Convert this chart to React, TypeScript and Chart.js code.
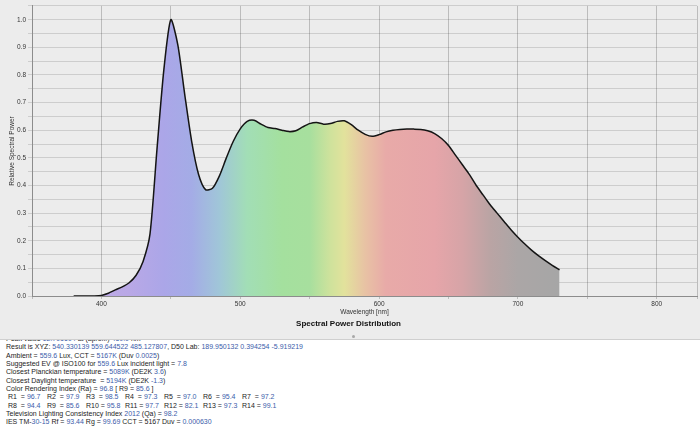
import React, { useEffect, useRef } from "react";
import { Chart, registerables } from "chart.js";

Chart.register(...registerables);

// ---- data ----
const wavelengths = [
  380, 385, 390, 395, 400, 405, 410, 415, 420, 425, 430, 435, 440, 445, 450, 455, 460, 465, 470, 475,
  480, 485, 490, 495, 500, 505, 510, 515, 520, 525, 530, 535, 540, 545, 550, 555, 560, 565, 570, 575,
  580, 585, 590, 595, 600, 605, 610, 615, 620, 625, 630, 635, 640, 645, 650, 655, 660, 665, 670, 675,
  680, 685, 690, 695, 700, 705, 710, 715, 720, 725, 730,
];
const relativePower = [
  0, 0, 0, 0, 0.002, 0.01, 0.022, 0.033, 0.048, 0.075, 0.125, 0.225, 0.53, 0.82, 1.0, 0.91, 0.73, 0.56, 0.44, 0.385,
  0.39, 0.435, 0.5, 0.56, 0.605, 0.632, 0.636, 0.622, 0.61, 0.606, 0.6, 0.595, 0.598, 0.612, 0.624, 0.628, 0.622, 0.624, 0.632, 0.634,
  0.62, 0.6, 0.585, 0.578, 0.584, 0.594, 0.6, 0.603, 0.604, 0.604, 0.603, 0.598, 0.588, 0.57, 0.545, 0.51, 0.475, 0.44, 0.4, 0.365,
  0.33, 0.3, 0.27, 0.24, 0.213, 0.188, 0.165, 0.145, 0.127, 0.11, 0.095,
];
const xTickLabels = [400, 500, 600, 700, 800];
const yTickLabels = [0, 0.1, 0.2, 0.3, 0.4, 0.5, 0.6, 0.7, 0.8, 0.9, 1.0];

// spectrum fill colour stops (wavelength, colour)
const spectrumStops: [number, string][] = [
  [380, "#c0ace6"],
  [420, "#b9a8e6"],
  [445, "#aba6e8"],
  [465, "#a4ace6"],
  [485, "#a0c6d8"],
  [505, "#a2deb6"],
  [530, "#a4e09e"],
  [550, "#a7df9e"],
  [565, "#cfe29c"],
  [575, "#e2e29c"],
  [590, "#e8c2a4"],
  [605, "#e8aaa8"],
  [640, "#e6a5a9"],
  [660, "#d6a4a7"],
  [680, "#baa4a4"],
  [700, "#aba6a6"],
  [730, "#a6a6a6"],
];

// info panel text: [text, isValue]
type Seg = [string, boolean];
const infoLines: Seg[][] = [
  [["Peak value ", false], ["12.791694", true], [" at (aprox.) ", false], ["450.0", true], [" nm", false]],
  [["Result is XYZ: ", false], ["540.330139 559.644522 485.127807", true], [", D50 Lab: ", false], ["189.950132 0.394254 -5.919219", true]],
  [["Ambient = ", false], ["559.6", true], [" Lux, CCT = ", false], ["5167K", true], [" (Duv ", false], ["0.0025", true], [")", false]],
  [["Suggested EV @ ISO100 for ", false], ["559.6", true], [" Lux incident light = ", false], ["7.8", true]],
  [["Closest Planckian temperature = ", false], ["5089K", true], [" (DE2K ", false], ["3.6", true], [")", false]],
  [["Closest Daylight temperature  = ", false], ["5194K", true], [" (DE2K ", false], ["-1.3", true], [")", false]],
  [["Color Rendering Index (Ra) = ", false], ["96.8", true], [" [ R9 = ", false], ["85.6", true], [" ]", false]],
];
const rNames1 = ["R1", "R2", "R3", "R4", "R5", "R6", "R7"];
const rValues1 = ["96.7", "97.9", "98.5", "97.3", "97.0", "95.4", "97.2"];
const rNames2 = ["R8", "R9", "R10", "R11", "R12", "R13", "R14"];
const rValues2 = ["94.4", "85.6", "95.8", "97.7", "82.1", "97.3", "99.1"];
const infoTail: Seg[][] = [
  [["Television Lighting Consistency Index ", false], ["2012", true], [" (Qa) = ", false], ["98.2", true]],
  [["IES TM-", false], ["30-15", true], [" Rf = ", false], ["93.44", true], [" Rg = ", false], ["99.69", true], [" CCT = 5167 Duv = ", false], ["0.000630", true]],
];

const FONT = '"Liberation Sans", Arial, Helvetica, sans-serif';
const BLUE = "#3b5caa";

function Line({ segs }: { segs: Seg[] }) {
  return (
    <div>
      {segs.map((s, i) => (
        <span key={i} style={{ color: s[1] ? BLUE : undefined }}>{s[0]}</span>
      ))}
    </div>
  );
}

function RLine({ names, values }: { names: string[]; values: string[] }) {
  return (
    <div style={{ paddingLeft: 2 }}>
      {names.map((n, i) => (
        <span key={i} style={{ display: "inline-block", width: 39 }}>
          {n.length < 3 ? n + "  = " : n + " = "}
          <span style={{ color: BLUE }}>{values[i]}</span>
        </span>
      ))}
    </div>
  );
}

export default function App() {
  const ref = useRef<HTMLCanvasElement>(null);

  useEffect(() => {
    const canvas = ref.current!;
    Chart.defaults.font.family = FONT;
    const points = wavelengths.map((w, i) => ({ x: w, y: relativePower[i] }));

    const chart = new Chart(canvas, {
      type: "line",
      data: {
        datasets: [
          {
            data: points,
            borderColor: "#141414",
            borderWidth: 1.5,
            pointRadius: 0,
            tension: 0.25,
            fill: "origin",
            backgroundColor: (ctx: any) => {
              const c = ctx.chart;
              if (!c.chartArea) return "#c0c0e0";
              const xs = c.scales.x;
              const x0 = xs.getPixelForValue(wavelengths[0]);
              const x1 = xs.getPixelForValue(wavelengths[wavelengths.length - 1]);
              const g = c.ctx.createLinearGradient(x0, 0, x1, 0);
              const span = wavelengths[wavelengths.length - 1] - wavelengths[0];
              spectrumStops.forEach(([w, col]) => g.addColorStop((w - wavelengths[0]) / span, col));
              return g;
            },
          },
        ],
      },
      options: {
        responsive: false,
        animation: false,
        devicePixelRatio: 1,
        layout: { padding: { top: 5, right: 3, left: 0, bottom: 0 } },
        plugins: {
          legend: { display: false },
          tooltip: { enabled: false },
          title: {
            display: true,
            position: "bottom",
            text: "Spectral Power Distribution",
            color: "#111",
            font: { size: 8, weight: "bold", family: FONT },
            padding: { top: 0, bottom: 9.2 },
          },
        },
        scales: {
          x: {
            type: "linear",
            min: 350,
            max: 829,
            z: 1,
            afterFit: (s: any) => {
              s.height = 23.2;
            },
            ticks: {
              stepSize: 50,
              autoSkip: false,
              maxRotation: 0,
              padding: 1,
              color: "#333",
              font: { size: 6.5, family: FONT },
              callback: (v: any) => (xTickLabels.includes(Number(v)) ? String(v) : ""),
            },
            grid: { color: "rgba(0,0,0,0.2)", tickLength: 3 },
            border: { color: "#8c8c8c" },
            title: {
              display: true,
              text: "Wavelength [nm]",
              color: "#333",
              font: { size: 6.5, family: FONT },
              padding: { top: 0, bottom: 3 },
            },
          },
          y: {
            min: 0,
            max: 1.05,
            z: 1,
            afterFit: (s: any) => {
              s.width = 32;
            },
            ticks: {
              stepSize: 0.05,
              autoSkip: false,
              padding: 2,
              color: "#333",
              font: { size: 6.5, family: FONT },
              callback: (v: any) => {
                const n = Number(v);
                const hit = yTickLabels.find((t) => Math.abs(t - n) < 1e-6);
                return hit === undefined ? "" : hit.toFixed(1);
              },
            },
            grid: { color: "rgba(0,0,0,0.13)", tickLength: 4 },
            border: { color: "#8c8c8c" },
            title: {
              display: true,
              text: "Relative Spectral Power",
              color: "#333",
              font: { size: 6.5, family: FONT },
              padding: { top: 8, bottom: 0 },
            },
          },
        },
      },
    } as any);
    return () => chart.destroy();
  }, []);

  return (
    <div
      style={{
        position: "fixed",
        left: 0,
        top: 0,
        width: 700,
        height: 427,
        overflow: "hidden",
        background: "#fff",
        fontFamily: FONT,
      }}
    >
      <div style={{ position: "absolute", left: 0, top: 0, width: 700, height: 339, background: "#ececec" }}>
        <canvas ref={ref} width={700} height={338} style={{ display: "block", width: 700, height: 338 }} />
        <div
          style={{
            position: "absolute",
            left: 351.5,
            top: 335,
            width: 3,
            height: 3,
            borderRadius: "50%",
            background: "#a8a8a8",
          }}
        />
      </div>
      <div
        style={{
          position: "absolute",
          left: 0,
          top: 339,
          width: 700,
          height: 88,
          borderTop: "1px solid #cfcfcf",
          overflow: "hidden",
          background: "#fff",
        }}
      >
        <div
          style={{
            marginTop: -5.1,
            paddingLeft: 6,
            fontSize: 7,
            lineHeight: "8.35px",
            color: "#1c1c1c",
            whiteSpace: "pre",
          }}
        >
          {infoLines.map((l, i) => (
            <Line key={i} segs={l} />
          ))}
          <RLine names={rNames1} values={rValues1} />
          <RLine names={rNames2} values={rValues2} />
          {infoTail.map((l, i) => (
            <Line key={"t" + i} segs={l} />
          ))}
        </div>
      </div>
    </div>
  );
}
